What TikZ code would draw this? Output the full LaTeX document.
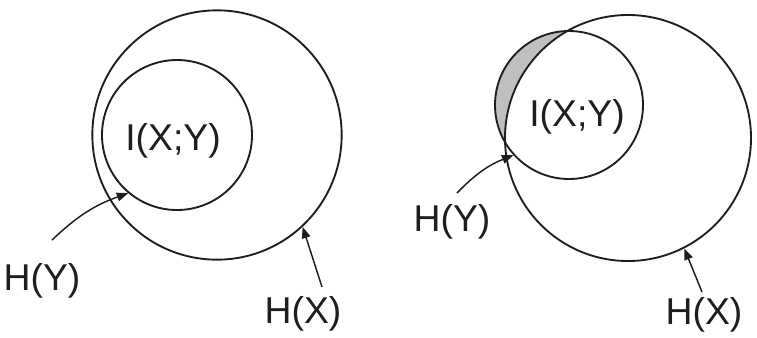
\documentclass[tikz,border=0pt]{standalone}
\usepackage{fontspec}
\setmainfont{Liberation Sans}
\usetikzlibrary{arrows.meta,backgrounds}
\definecolor{inkgray}{HTML}{1E1E1E}
\definecolor{shadegray}{HTML}{BFBFBF}

\begin{document}
\begin{tikzpicture}[x=0.75pt,y=-0.75pt,
  set/.style={circle,draw=inkgray,line width=1.4pt,inner sep=0pt},
  lbl/.style={inner sep=0pt,text=inkgray,font=\fontsize{28}{30}\selectfont},
  pointer/.style={-{Triangle[length=8.5pt,width=6.5pt]},line width=1.1pt,draw=inkgray}]
\useasboundingbox (0,0) rectangle (757,337);

% left: H(Y) lies inside H(X)
\node[set,minimum size=187pt] (hxL) at (217,135) {};
\node[set,minimum size=112.5pt] (hyL) at (177,135) {};
\node[lbl] (ixyL) at (173,141) {I(X;Y)};
\node[lbl] (lblYL) at (42,281) {H(Y)};
\node[lbl] (lblXL) at (303,314) {H(X)};
\coordinate (tailYL) at ([shift={(10,-41)}]lblYL.center);
\coordinate (tailXL) at ([shift={(19,-27)}]lblXL.center);
\draw[pointer] (tailYL) to[bend left=12] (hyL.230);
\draw[pointer] (tailXL) -- (hxL.313);

% right: H(Y) sticks out of H(X)
\node[set,minimum size=184.5pt] (hxR) at (628,138) {};
\node[set,minimum size=111pt] (hyR) at (569,105) {};
\begin{scope}[on background layer]
  \clip (hyR.center) circle[radius=55.5pt];
  \fill[shadegray,even odd rule] (hyR.center) circle[radius=55.5pt]
    (hxR.center) circle[radius=92.25pt];
\end{scope}
\node[lbl] (ixyR) at (577,117) {I(X;Y)};
\node[lbl] (lblYR) at (452,222) {H(Y)};
\node[lbl] (lblXR) at (704,315) {H(X)};
\coordinate (tailYR) at ([shift={(5,-29)}]lblYR.center);
\coordinate (tailXR) at ([shift={(-2,-23)}]lblXR.center);
\draw[pointer] (tailYR) to[bend left=12] (hyR.222);
\draw[pointer] (tailXR) -- (hxR.297);
\end{tikzpicture}
\end{document}
